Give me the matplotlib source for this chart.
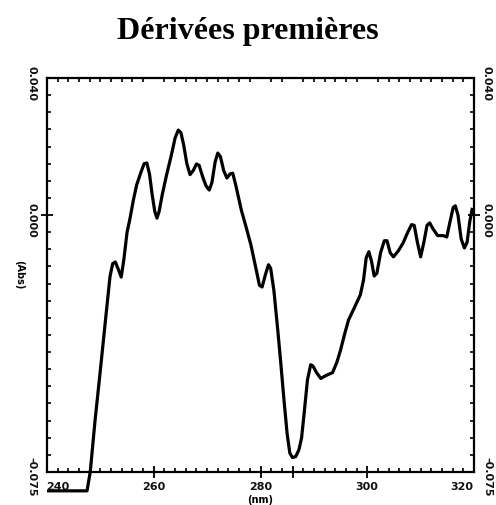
import matplotlib
matplotlib.use("Agg")
import matplotlib.pyplot as plt
import numpy as np

# Data (first derivative)
wavelength = [240.0, 247.5, 248.1, 249.0, 250.0, 251.0, 251.8, 252.3, 252.8, 253.4,
              253.9, 254.4, 255.0, 255.5, 256.2, 256.8, 257.6, 258.2, 258.7, 259.2,
              259.7, 260.2, 260.6, 261.0, 261.6, 262.4, 263.3, 264.0, 264.6, 265.1,
              265.6, 266.2, 266.8, 267.4, 268.0, 268.5, 269.2, 269.8, 270.4, 270.9,
              271.5, 272.0, 272.5, 273.1, 273.7, 274.3, 274.8, 275.4, 276.4, 277.3,
              278.2, 279.2, 279.8, 280.3, 280.9, 281.5, 281.9, 282.5, 283.2, 283.8,
              284.4, 285.0, 285.5, 286.0, 286.6, 287.2, 287.7, 288.2, 288.8, 289.4,
              289.8, 290.5, 291.3, 292.3, 293.5, 294.3, 295.0, 295.8, 296.5, 297.6,
              298.7, 299.3, 299.8, 300.3, 300.8, 301.3, 301.8, 302.5, 303.2, 303.7,
              304.3, 304.9, 305.8, 306.7, 307.6, 308.3, 308.8, 309.4, 310.0, 310.6,
              311.2, 311.7, 312.3, 313.2, 314.2, 314.9, 315.5, 316.1, 316.5, 317.0,
              317.6, 318.2, 318.7, 319.2, 319.7]
deriv = [-0.0805, -0.0805, -0.0750, -0.0600, -0.0452, -0.0300, -0.0180, -0.0142, -0.0137, -0.0160,
         -0.0181, -0.0130, -0.0050, -0.0014, 0.0045, 0.0088, 0.0125, 0.0150, 0.0152, 0.0120,
         0.0060, 0.0010, -0.0009, 0.0010, 0.0060, 0.0117, 0.0175, 0.0225, 0.0248, 0.0240,
         0.0205, 0.0150, 0.0118, 0.0130, 0.0149, 0.0145, 0.0110, 0.0085, 0.0073, 0.0095,
         0.0155, 0.0181, 0.0170, 0.0130, 0.0108, 0.0120, 0.0122, 0.0085, 0.0015, -0.0035,
         -0.0087, -0.0160, -0.0205, -0.0210, -0.0175, -0.0145, -0.0155, -0.0219, -0.0330, -0.0432,
         -0.0540, -0.0640, -0.0695, -0.0708, -0.0705, -0.0685, -0.0650, -0.0575, -0.0481, -0.0437,
         -0.0440, -0.0460, -0.0477, -0.0468, -0.0460, -0.0430, -0.0394, -0.0345, -0.0306, -0.0270,
         -0.0233, -0.0190, -0.0125, -0.0107, -0.0135, -0.0178, -0.0170, -0.0110, -0.0075, -0.0075,
         -0.0110, -0.0122, -0.0105, -0.0082, -0.0050, -0.0028, -0.0030, -0.0080, -0.0122, -0.0080,
         -0.0030, -0.0023, -0.0040, -0.0060, -0.0060, -0.0064, -0.0020, 0.0022, 0.0027, 0.0000,
         -0.0070, -0.0096, -0.0080, -0.0020, 0.0021]

x_ticks = [240, 260, 280, 300, 320]
x_labels = ["240", "260", "280", "300", "320"]
y_ticks = [0.040, 0.000, -0.075]
y_labels = ["0.040", "0.000", "-0.075"]
title = "Dérivées premières"

W, H = 496, 505
fig = plt.figure(figsize=(W / 100, H / 100), dpi=100)
ax = fig.add_axes([47 / W, 1 - 472 / H, (474 - 47) / W, (472 - 78) / H])
ax.plot(wavelength, deriv, color="black", lw=2.3, clip_on=False,
        solid_joinstyle="round", solid_capstyle="butt")
ax.set_xlim(240, 320)
ax.set_ylim(-0.075, 0.040)

for s in ax.spines.values():
    s.set_linewidth(1.6)

ax.set_xticks([260, 280, 286, 300])
ax.set_xticks(np.arange(242, 320, 2), minor=True)
ax.set_yticks([0.0])
ax.set_yticks(np.arange(-0.070, 0.040, 0.005), minor=True)
ax.tick_params(which="major", direction="inout", length=9, width=1.3,
               top=False, right=True, labelbottom=False, labelleft=False)
ax.tick_params(which="minor", direction="in", length=3, width=1.2,
               top=True, right=True)

def fx(px):
    return px / W

def fy(py):
    return 1 - py / H

def px_of_x(v):
    return 47 + (v - 240) / 80 * (474 - 47)

def py_of_y(v):
    return 78 + (0.040 - v) / 0.115 * (472 - 78)

lab_kw = dict(fontsize=8, fontweight="bold", family="DejaVu Sans", color="#111111")
for v, t in zip(x_ticks, x_labels):
    ha = "center"
    px = px_of_x(v)
    if v == 240:
        ha = "left"
        px = 46
    elif v == 320:
        ha = "right"
        px = 473
    fig.text(fx(px), fy(487), t, ha=ha, va="center", **lab_kw)

for v, t in zip(y_ticks, y_labels):
    py = py_of_y(v) + 5
    fig.text(fx(31), fy(py), t, rotation=-90, ha="center", va="center", **lab_kw)
    fig.text(fx(487), fy(py), t, rotation=-90, ha="center", va="center", **lab_kw)

fig.text(fx(19), fy(275), "(Abs)", rotation=-90, ha="center", va="center",
         fontsize=7, fontweight="bold", family="DejaVu Sans")
fig.text(fx(260), fy(500), "(nm)", ha="center", va="center",
         fontsize=7, fontweight="bold", family="DejaVu Sans")

fig.text(0.5, fy(32), title, ha="center", va="center", fontsize=23,
         fontweight="bold", family="Liberation Serif")

fig.savefig("out.png", dpi=100)
